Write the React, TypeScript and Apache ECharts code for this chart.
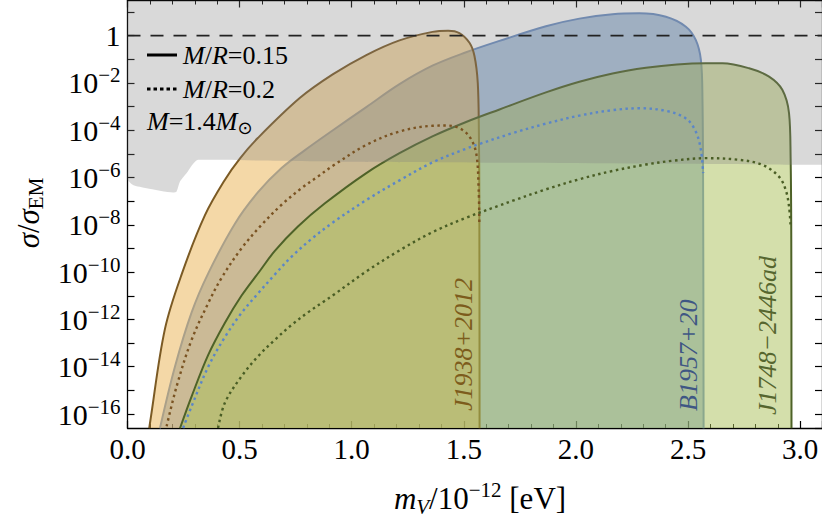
import React, { useEffect, useRef } from 'react';
import * as echarts from 'echarts';

// x: m_V / 1e-12 eV ; y: log10(sigma / sigma_EM)
const j1938Solid: number[][] = [
  [0.097, -16.6], [0.1, -16.4], [0.167, -12.4], [0.245, -10.0], [0.345, -7.6], [0.434, -6.1],
  [0.501, -5.2], [0.581, -4.33], [0.768, -2.64], [0.915, -1.64], [1.065, -0.82], [1.213, -0.2],
  [1.36, 0.16], [1.43, 0.21], [1.48, 0.11], [1.525, -0.3], [1.547, -0.85], [1.562, -2.0],
  [1.567, -4.1], [1.569, -7.0], [1.57, -16.6],
];
const b1957Solid: number[][] = [
  [0.1447, -16.6], [0.2115, -14.0], [0.286, -11.7], [0.36, -10.05], [0.479, -7.95], [0.582, -6.62],
  [0.687, -5.6], [0.79, -4.85], [0.916, -4.0], [1.065, -3.02], [1.213, -2.05], [1.362, -1.26],
  [1.51, -0.7], [1.659, -0.22], [1.866, 0.4], [2.015, 0.72], [2.163, 0.91], [2.282, 0.946],
  [2.401, 0.8], [2.49, 0.38], [2.534, -0.18], [2.557, -1.03], [2.564, -2.72], [2.567, -6.94],
  [2.569, -16.6],
];
const j1748Solid: number[][] = [
  [0.234, -16.6], [0.286, -15.25], [0.36, -13.5], [0.434, -12.15], [0.508, -11.0], [0.59, -9.95],
  [0.657, -9.1], [0.76, -8.07], [0.879, -7.1], [1.065, -5.81], [1.213, -4.97], [1.362, -4.25],
  [1.51, -3.65], [1.659, -3.12], [1.866, -2.4], [2.015, -1.95], [2.163, -1.6], [2.312, -1.36],
  [2.45, -1.22], [2.579, -1.17], [2.653, -1.17], [2.772, -1.38], [2.861, -1.73], [2.92, -2.29],
  [2.95, -3.28], [2.957, -5.11], [2.96, -8.63], [2.961, -16.6],
];
const j1938Dotted: number[][] = [
  [0.1745, -16.52], [0.219, -14.83], [0.286, -12.86], [0.36, -11.31], [0.419, -10.25], [0.508, -9.0],
  [0.598, -8.0], [0.687, -7.15], [0.776, -6.45], [0.85, -5.95], [0.916, -5.5], [1.065, -4.62],
  [1.213, -4.05], [1.362, -3.81], [1.421, -3.8], [1.48, -3.91], [1.525, -4.27], [1.555, -4.97],
  [1.566, -6.52], [1.569, -8.0],
];
const b1957Dotted: number[][] = [
  [0.248, -16.59], [0.286, -15.67], [0.36, -14.0], [0.434, -12.75], [0.508, -11.73], [0.582, -10.9],
  [0.657, -10.1], [0.731, -9.35], [0.82, -8.6], [0.916, -7.9], [1.065, -6.95], [1.213, -6.12],
  [1.362, -5.35], [1.51, -4.78], [1.569, -4.58], [1.718, -4.12], [1.866, -3.72], [2.015, -3.38],
  [2.163, -3.15], [2.282, -3.07], [2.401, -3.18], [2.49, -3.5], [2.534, -4.05], [2.557, -4.83],
  [2.567, -5.81],
];
const j1748Dotted: number[][] = [
  [0.404, -16.59], [0.434, -15.53], [0.508, -14.41], [0.582, -13.56], [0.657, -12.86], [0.731, -12.24],
  [0.805, -11.7], [0.879, -11.22], [0.916, -10.98], [1.065, -9.97], [1.213, -9.08], [1.362, -8.3],
  [1.51, -7.7], [1.659, -7.18], [1.718, -6.98], [1.866, -6.5], [2.015, -6.07], [2.163, -5.72],
  [2.312, -5.45], [2.43, -5.29], [2.579, -5.18], [2.727, -5.25], [2.831, -5.46], [2.905, -5.96],
  [2.935, -6.52], [2.95, -7.22], [2.957, -8.07],
];
// lower edge of the grey excluded region
const excludedEdge: number[][] = [
  [0, -6.1], [0.0245, -6.31], [0.0855, -6.45], [0.204, -6.63], [0.219, -6.59], [0.234, -6.17],
  [0.264, -5.81], [0.315, -5.25], [1.0, -5.33], [3.1, -5.46],
];
const unitLine: number[][] = [[0, 0], [3.1, 0]];
const yLabelExps = [-16, -14, -12, -10, -8, -6, -4, -2, 0];
const pulsarNames = ['J1938+2012', 'B1957+20', 'J1748\u22122446ad'];

const X_MIN = 0;
const X_MAX = 3.097;
const Y_MIN = -16.59;
const Y_MAX = 1.487;
const SERIF = "'Liberation Serif', 'DejaVu Serif', serif";

export default function App() {
  const ref = useRef<HTMLDivElement>(null);
  useEffect(() => {
    if (!ref.current) return;
    const chart = echarts.init(ref.current, undefined, { renderer: 'svg' });

    const area = (data: number[][], fill: string, stroke: string, z: number) => ({
      type: 'line', data, symbol: 'none', smooth: 0.35, silent: true, z,
      lineStyle: { color: stroke, width: 2 },
      areaStyle: { color: fill, origin: 'start', opacity: 1 },
    });
    const dotted = (data: number[][], stroke: string) => ({
      type: 'line', data, symbol: 'none', smooth: 0.35, silent: true, z: 7,
      lineStyle: { color: stroke, width: 2.4, type: [2.5, 3.5] },
    });

    const yFmt = (v: number) => {
      if (!yLabelExps.includes(v)) return '';
      if (v === 0) return '{b|1}';
      return `{b|10}{s|\u2212${Math.abs(v)}}`;
    };
    const richY = {
      b: { fontSize: 30, fontFamily: SERIF, color: '#000', lineHeight: 36 },
      s: { fontSize: 21, fontFamily: SERIF, color: '#000', lineHeight: 17, verticalAlign: 'top' },
    };

    const baseX = {
      type: 'value', min: X_MIN, max: X_MAX, interval: 0.5,
      splitLine: { show: false },
      axisLine: { onZero: false, lineStyle: { color: '#000', width: 1.3 } },
      axisTick: { inside: true, length: 7, lineStyle: { color: '#000', width: 1.2 } },
      minorTick: { show: true, splitNumber: 5, length: 4, lineStyle: { color: '#000', width: 1 } },
    };
    const baseY = {
      type: 'value', min: Y_MIN, max: Y_MAX, splitNumber: 18, minInterval: 1, maxInterval: 1,
      splitLine: { show: false },
      axisLine: { onZero: false, lineStyle: { color: '#000', width: 1.3 } },
      axisTick: { inside: true, length: 7, interval: 0, lineStyle: { color: '#000', width: 1.2 } },
    };

    const tx = (x: number, y: number, text: string, fill: string) => ({
      type: 'text', x, y, rotation: Math.PI / 2, z: 20,
      style: { text, fontSize: 26, fontStyle: 'italic', fontFamily: SERIF, fill, align: 'left', verticalAlign: 'middle' },
    });
    const legendRich = {
      i: { fontStyle: 'italic', fontSize: 26, fontFamily: SERIF, lineHeight: 30 },
      n: { fontSize: 26, fontFamily: SERIF, lineHeight: 30 },
      sub: { fontSize: 18, fontFamily: "'DejaVu Sans', sans-serif", lineHeight: 14, verticalAlign: 'bottom' },
    };

    chart.setOption({
      animation: false,
      grid: { left: 127.5, right: -1, top: 0.5, bottom: 90, containLabel: false },
      xAxis: [
        {
          ...baseX, position: 'bottom',
          axisLabel: {
            formatter: (v: number) => v.toFixed(1), fontSize: 29, fontFamily: SERIF, color: '#000',
            margin: 6, showMaxLabel: false,
          },
        },
        { ...baseX, position: 'top', axisLabel: { show: false } },
      ],
      yAxis: [
        {
          ...baseY, position: 'left',
          axisLabel: { formatter: yFmt, rich: richY, interval: 0, margin: 7, showMinLabel: false, showMaxLabel: false },
        },
        { ...baseY, position: 'right', axisLabel: { show: false } },
      ],
      series: [
        area(b1957Solid, 'rgba(91,135,187,0.5)', '#6b8ec3', 2),
        area(j1938Solid, 'rgba(233,177,79,0.5)', '#7b5a24', 3),
        area(j1748Solid, 'rgba(169,191,87,0.5)', '#4e6228', 4),
        {
          type: 'line', data: excludedEdge, symbol: 'none', smooth: 0.2, silent: true, z: 6,
          lineStyle: { width: 0, opacity: 0 },
          areaStyle: { color: 'rgba(128,128,128,0.3)', origin: 'end', opacity: 1 },
        },
        dotted(j1938Dotted, '#7a5322'),
        dotted(b1957Dotted, '#5b86c8'),
        dotted(j1748Dotted, '#4a5e25'),
        {
          type: 'line', data: unitLine, symbol: 'none', silent: true, z: 8,
          lineStyle: { color: '#222', width: 1.6, type: [13, 10] },
        },
      ],
      graphic: [
        { type: 'line', z: 20, shape: { x1: 147, y1: 55, x2: 177, y2: 55 }, style: { stroke: '#000', lineWidth: 3 } },
        {
          type: 'text', x: 183, y: 55, z: 20,
          style: { text: '{i|M}{n|/}{i|R}{n|=0.15}', fill: '#000', verticalAlign: 'middle', rich: legendRich },
        },
        { type: 'line', z: 20, shape: { x1: 147, y1: 89, x2: 177, y2: 89 }, style: { stroke: '#000', lineWidth: 3, lineDash: [3.5, 3] } },
        {
          type: 'text', x: 183, y: 89, z: 20,
          style: { text: '{i|M}{n|/}{i|R}{n|=0.2}', fill: '#000', verticalAlign: 'middle', rich: legendRich },
        },
        {
          type: 'text', x: 147, y: 121, z: 20,
          style: { text: '{i|M}{n|=1.4}{i|M}{sub|\u2299}', fill: '#000', verticalAlign: 'middle', rich: legendRich },
        },
        tx(463, 411, pulsarNames[0], '#7d5c1c'),
        tx(688, 411, pulsarNames[1], '#3f5784'),
        tx(767, 415, pulsarNames[2], '#56662f'),
        {
          type: 'text', x: 28, y: 213, rotation: Math.PI / 2, z: 20,
          style: {
            text: '{i|\u03c3}{n|/}{i|\u03c3}{sub|EM}', fill: '#000', align: 'center', verticalAlign: 'middle',
            rich: {
              i: { fontStyle: 'italic', fontSize: 31, fontFamily: SERIF, lineHeight: 36 },
              n: { fontSize: 31, fontFamily: SERIF, lineHeight: 36 },
              sub: { fontSize: 21, fontFamily: SERIF, lineHeight: 18, verticalAlign: 'bottom' },
            },
          },
        },
        {
          type: 'text', x: 480, y: 498, z: 20,
          style: {
            text: '{i|m}{subi|V}{n|/10}{sup|\u221212}{n| [eV]}', fill: '#000', align: 'center', verticalAlign: 'middle',
            rich: {
              i: { fontStyle: 'italic', fontSize: 31, fontFamily: SERIF, lineHeight: 38 },
              n: { fontSize: 31, fontFamily: SERIF, lineHeight: 38 },
              subi: { fontStyle: 'italic', fontSize: 21, fontFamily: SERIF, lineHeight: 18, verticalAlign: 'bottom' },
              sup: { fontSize: 21, fontFamily: SERIF, lineHeight: 18, verticalAlign: 'top' },
            },
          },
        },
      ],
    });
    return () => chart.dispose();
  }, []);
  return <div ref={ref} style={{ position: 'absolute', left: 0, top: 0, width: 822, height: 518 }} />;
}
